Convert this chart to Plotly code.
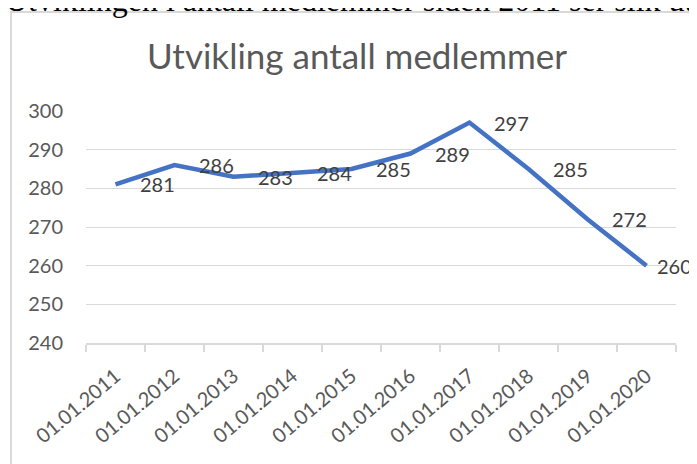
import plotly.graph_objects as go

categories = ["01.01.2011", "01.01.2012", "01.01.2013", "01.01.2014", "01.01.2015",
              "01.01.2016", "01.01.2017", "01.01.2018", "01.01.2019", "01.01.2020"]
members = [281, 286, 283, 284, 285, 289, 297, 285, 272, 260]
y_ticks = [240, 250, 260, 270, 280, 290, 300]
chart_title = "Utvikling antall medlemmer"
page_text = "Utviklingen i antall medlemmer siden 2011 ser slik ut"

# The page body has an 8px margin: figure pixel = page pixel - 8
OFF = 8
W, H = 697 - OFF, 464 - OFF
PLOT_X0, PLOT_X1, PLOT_Y0, PLOT_Y1 = 86, 676, 111, 343  # page pixels
ML = PLOT_X0 - OFF
MR = W - (PLOT_X1 - OFF)
MT = PLOT_Y0 - OFF
MB = H - (PLOT_Y1 - OFF)
PW, PH = W - ML - MR, H - MT - MB


def px(x):  # page x -> paper
    return (x - OFF - ML) / PW


def py(y):  # page y -> paper
    return (H - MB - (y - OFF)) / PH


FONT = "Lato"
BLUE = "#4472C4"
GRID = "#d9d9d9"

fig = go.Figure()
fig.add_trace(go.Scatter(
    x=categories, y=members, mode="lines",
    line=dict(color=BLUE, width=4.5),
    hoverinfo="skip", showlegend=False,
))

annotations = []
for i, (c, v) in enumerate(zip(categories, members)):
    annotations.append(dict(
        x=c, y=v, xref="x", yref="y", text=str(v), showarrow=False,
        xanchor="left", yanchor="middle", xshift=8 if i == len(categories) - 1 else 22,
        font=dict(family=FONT, size=20, color="#404040"),
    ))

annotations.append(dict(
    x=px(356.5), y=py(55), xref="paper", yref="paper", text=chart_title,
    showarrow=False, xanchor="center", yanchor="middle",
    font=dict(family=FONT, size=35, color="#595959"),
))
annotations.append(dict(
    x=px(3), y=py(20), xref="paper", yref="paper", text=page_text,
    showarrow=False, xanchor="left", yanchor="bottom",
    font=dict(family="Liberation Serif", size=32, color="#000000"),
))

shapes = [dict(
    type="path", xref="paper", yref="paper",
    path=f"M {px(720)} {py(12)} L {px(11)} {py(12)} L {px(11)} {py(490)}",
    line=dict(color=GRID, width=2),
)]

fig.update_layout(
    width=W, height=H, autosize=False,
    margin=dict(l=ML, r=MR, t=MT, b=MB, pad=0),
    paper_bgcolor="white", plot_bgcolor="white",
    annotations=annotations, shapes=shapes,
    xaxis=dict(
        type="category", range=[-0.5, len(categories) - 0.5],
        tickson="boundaries", ticks="outside", ticklen=7, tickcolor=GRID, tickwidth=1.5,
        showline=True, linecolor=GRID, linewidth=1.5, showgrid=False,
        tickangle=-40, ticklabelstandoff=12,
        tickfont=dict(family=FONT, size=20, color="#595959"),
    ),
    yaxis=dict(
        range=[240, 300], tickvals=y_ticks, showgrid=True, gridcolor=GRID, gridwidth=1,
        zeroline=False, showline=False, ticks="", ticklabelstandoff=22,
        tickfont=dict(family=FONT, size=20, color="#595959"),
    ),
)

fig.write_html("out.html")
